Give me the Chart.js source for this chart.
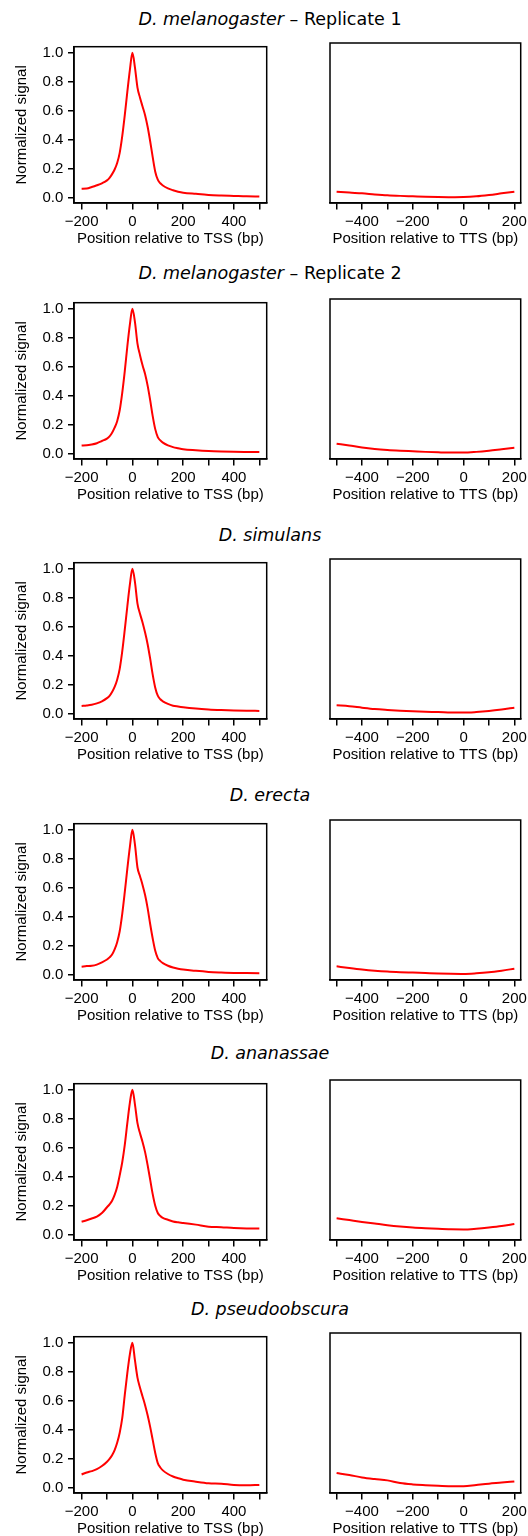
<!DOCTYPE html>
<html>
<head>
<meta charset="utf-8">
<script src="https://cdn.jsdelivr.net/npm/chart.js@4"></script>
<style>
  body { margin: 0; background: #fff; }
  #wrap { position: relative; width: 528px; height: 1536px; overflow: hidden; }
  .title {
    position: absolute; left: 0; width: 540px; text-align: center;
    font-family: "DejaVu Sans", sans-serif; font-size: 17.5px; line-height: 20px; color: #000;
  }
  canvas { position: absolute; }
</style>
</head>
<body>
<div id="wrap"></div>
<script>
// Positions (bp) where the profiles were read
const tssPos = [-200, -180, -160, -140, -120, -100, -90, -80, -70, -60, -50, -40, -30, -20, -10, 0,
    10, 20, 30, 40, 50, 60, 70, 80, 90, 100, 110, 120, 140, 160, 180, 200, 250, 300, 350, 400, 450, 500];
const ttsPos = [-500, -450, -400, -350, -300, -250, -200, -150, -100, -50, 0, 50, 100, 150, 200];

// Tick values
const tssTicks = [-200, -100, 0, 100, 200, 300, 400, 500];
const tssLabels = [-200, 0, 200, 400];
const ttsTicks = [-500, -400, -300, -200, -100, 0, 100, 200];
const ttsLabels = [-400, -200, 0, 200];
const yTicks = [0, 0.2, 0.4, 0.6, 0.8, 1.0];

// Panel titles
const species = ['D. melanogaster', 'D. melanogaster', 'D. simulans', 'D. erecta', 'D. ananassae', 'D. pseudoobscura'];
const suffixes = [' \u2013 Replicate 1', ' \u2013 Replicate 2', '', '', '', ''];

// Normalized signal around TSS
const tssMel1 = [0.063, 0.064, 0.074, 0.086, 0.100, 0.120, 0.138, 0.163, 0.195, 0.240, 0.310, 0.425, 0.570, 0.730, 0.880, 1.000,
    0.900, 0.760, 0.690, 0.630, 0.570, 0.490, 0.390, 0.280, 0.180, 0.125, 0.100, 0.085, 0.065, 0.052, 0.042, 0.035, 0.027, 0.020, 0.016, 0.013, 0.010, 0.009];
const tssMel2 = [0.057, 0.058, 0.064, 0.073, 0.088, 0.105, 0.120, 0.145, 0.180, 0.225, 0.300, 0.420, 0.570, 0.740, 0.890, 1.000,
    0.910, 0.760, 0.680, 0.610, 0.550, 0.470, 0.370, 0.260, 0.170, 0.115, 0.092, 0.077, 0.058, 0.046, 0.038, 0.031, 0.024, 0.019, 0.016, 0.014, 0.013, 0.013];
const tssSim = [0.054, 0.057, 0.062, 0.072, 0.086, 0.108, 0.124, 0.150, 0.185, 0.235, 0.310, 0.430, 0.580, 0.740, 0.890, 1.000,
    0.910, 0.760, 0.690, 0.630, 0.560, 0.480, 0.380, 0.270, 0.180, 0.125, 0.100, 0.086, 0.068, 0.056, 0.050, 0.045, 0.036, 0.030, 0.026, 0.023, 0.021, 0.020];
const tssEre = [0.056, 0.060, 0.062, 0.070, 0.085, 0.105, 0.120, 0.140, 0.175, 0.225, 0.300, 0.420, 0.570, 0.730, 0.880, 1.000,
    0.900, 0.740, 0.680, 0.620, 0.550, 0.460, 0.350, 0.250, 0.165, 0.115, 0.094, 0.080, 0.062, 0.050, 0.042, 0.036, 0.027, 0.020, 0.016, 0.013, 0.012, 0.011];
const tssAna = [0.090, 0.100, 0.112, 0.125, 0.150, 0.190, 0.210, 0.235, 0.275, 0.330, 0.410, 0.500, 0.620, 0.770, 0.910, 1.000,
    0.900, 0.770, 0.700, 0.640, 0.570, 0.480, 0.380, 0.280, 0.200, 0.150, 0.130, 0.117, 0.104, 0.092, 0.086, 0.082, 0.070, 0.056, 0.052, 0.047, 0.044, 0.043];
const tssPse = [0.092, 0.105, 0.115, 0.128, 0.150, 0.180, 0.200, 0.225, 0.260, 0.310, 0.380, 0.480, 0.640, 0.790, 0.920, 1.000,
    0.880, 0.760, 0.690, 0.630, 0.570, 0.500, 0.420, 0.330, 0.240, 0.170, 0.140, 0.120, 0.095, 0.078, 0.066, 0.056, 0.042, 0.031, 0.028, 0.019, 0.017, 0.020];

// Normalized signal around TTS
const ttsMel1 = [0.040, 0.034, 0.029, 0.022, 0.016, 0.012, 0.009, 0.006, 0.004, 0.003, 0.004, 0.009, 0.018, 0.029, 0.040];
const ttsMel2 = [0.067, 0.055, 0.042, 0.032, 0.025, 0.020, 0.016, 0.012, 0.009, 0.007, 0.007, 0.012, 0.020, 0.030, 0.040];
const ttsSim = [0.056, 0.050, 0.040, 0.031, 0.025, 0.020, 0.016, 0.013, 0.011, 0.008, 0.007, 0.011, 0.018, 0.028, 0.040];
const ttsEre = [0.056, 0.045, 0.035, 0.027, 0.021, 0.017, 0.014, 0.011, 0.008, 0.006, 0.005, 0.009, 0.016, 0.027, 0.040];
const ttsAna = [0.110, 0.098, 0.086, 0.075, 0.064, 0.055, 0.048, 0.043, 0.039, 0.036, 0.035, 0.040, 0.048, 0.058, 0.072];
const ttsPse = [0.098, 0.085, 0.069, 0.058, 0.049, 0.031, 0.022, 0.017, 0.013, 0.010, 0.009, 0.018, 0.027, 0.034, 0.042];

const tssRows = [tssMel1, tssMel2, tssSim, tssEre, tssAna, tssPse];
const ttsRows = [ttsMel1, ttsMel2, ttsSim, ttsEre, ttsAna, ttsPse];

// Layout of the rows (box top and title centre, px)
const boxTops = [43, 299, 559, 820, 1080, 1333];
const titleYs = [19, 273, 535, 795, 1053, 1309];
const BOX_H = 160;
const CANVAS_H = 225;
const TOP_PAD = 10;

const axisFont = { family: '"Liberation Sans", Arial, sans-serif', size: 15 };

function fmtTick(v) {
    return v < 0 ? '\u2212' + Math.abs(v) : String(v);
}

// Draw the full frame around the plot area
const boxPlugin = {
    id: 'box',
    afterDraw(chart) {
        const a = chart.chartArea;
        const ctx = chart.ctx;
        ctx.save();
        ctx.strokeStyle = '#000';
        ctx.lineWidth = 1.5;
        ctx.strokeRect(a.left, a.top, a.right - a.left, a.bottom - a.top);
        ctx.restore();
    }
};

function makePanel(canvas, xs, ys, isTss) {
    const ticks = isTss ? tssTicks : ttsTicks;
    const labels = isTss ? tssLabels : ttsLabels;
    return new Chart(canvas, {
        type: 'line',
        data: {
            datasets: [{
                data: xs.map((x, i) => ({ x: x, y: ys[i] })),
                borderColor: '#ff0000',
                borderWidth: 2,
                pointRadius: 0,
                cubicInterpolationMode: 'monotone',
                fill: false
            }]
        },
        options: {
            responsive: false,
            animation: false,
            devicePixelRatio: 1,
            layout: {
                autoPadding: false,
                padding: isTss ? { top: TOP_PAD, left: 0, right: 3.3, bottom: 0 }
                               : { top: TOP_PAD, left: 30, right: 7.3, bottom: 0 }
            },
            plugins: {
                legend: { display: false },
                tooltip: { enabled: false }
            },
            scales: {
                x: {
                    type: 'linear',
                    min: isTss ? -230 : -526,
                    max: isTss ? 529 : 225,
                    afterBuildTicks: s => { s.ticks = ticks.map(v => ({ value: v })); },
                    afterFit: s => {
                        s.height = CANVAS_H - TOP_PAD - BOX_H;
                        s.paddingLeft = 0;
                        s.paddingRight = 0;
                    },
                    ticks: {
                        autoSkip: false,
                        maxRotation: 0,
                        padding: 3,
                        color: '#000',
                        font: axisFont,
                        callback: v => labels.includes(v) ? fmtTick(v) : ''
                    },
                    grid: { drawOnChartArea: false, drawTicks: true, tickLength: 6.5, color: '#000', lineWidth: 1.5 },
                    border: { display: true, color: '#000', width: 1.5 },
                    title: {
                        display: true,
                        text: isTss ? 'Position relative to TSS (bp)' : 'Position relative to TTS (bp)',
                        color: '#000',
                        font: axisFont,
                        padding: { top: 0, bottom: 10.3 }
                    }
                },
                y: {
                    display: isTss,
                    min: -0.036,
                    max: 1.042,
                    afterBuildTicks: s => { s.ticks = yTicks.map(v => ({ value: v })); },
                    afterFit: s => { s.width = isTss ? 74 : 0; },
                    ticks: {
                        padding: 4.7,
                        color: '#000',
                        font: axisFont,
                        callback: v => v.toFixed(1)
                    },
                    grid: { drawOnChartArea: false, drawTicks: true, tickLength: 6, color: '#000', lineWidth: 1.5 },
                    border: { display: true, color: '#000', width: 1.5 },
                    title: {
                        display: true,
                        text: 'Normalized signal',
                        color: '#000',
                        font: axisFont,
                        padding: { top: 12.7, bottom: 0 }
                    }
                }
            }
        },
        plugins: [boxPlugin]
    });
}

function buildPage() {
    const wrap = document.getElementById('wrap');
    for (let r = 0; r < 6; r++) {
        const t = document.createElement('div');
        t.className = 'title';
        t.style.top = (titleYs[r] - 10) + 'px';
        t.innerHTML = '<i>' + species[r] + '</i>' + suffixes[r];
        wrap.appendChild(t);

        const left = document.createElement('canvas');
        left.width = 270;
        left.height = CANVAS_H;
        left.style.left = '0px';
        left.style.top = (boxTops[r] - TOP_PAD) + 'px';
        wrap.appendChild(left);
        makePanel(left, tssPos, tssRows[r], true);

        const right = document.createElement('canvas');
        right.width = 228;
        right.height = CANVAS_H;
        right.style.left = '300px';
        right.style.top = (boxTops[r] - TOP_PAD) + 'px';
        wrap.appendChild(right);
        makePanel(right, ttsPos, ttsRows[r], false);
    }
}

buildPage();
</script>
</body>
</html>
